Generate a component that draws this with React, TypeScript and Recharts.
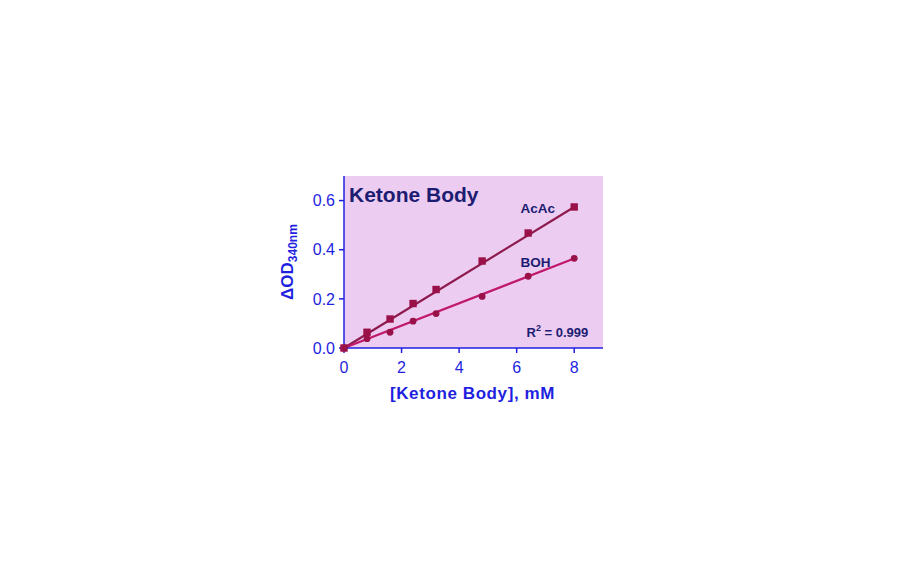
import {
  ComposedChart,
  Line,
  Scatter,
  XAxis,
  YAxis,
  CartesianGrid,
  Customized,
} from "recharts";

// concentrations (mM)
const conc = [0, 0.8, 1.6, 2.4, 3.2, 4.8, 6.4, 8];
const acacOD = [0, 0.064, 0.118, 0.181, 0.238, 0.354, 0.468, 0.574];
const bohOD = [0, 0.038, 0.064, 0.109, 0.14, 0.21, 0.292, 0.365];

// fitted lines, endpoints
const fitX = [0, 8];
const acacFit = [0, 0.574];
const bohFit = [0, 0.364];

const xTicks = [0, 2, 4, 6, 8];
const yTicks = [0, 0.2, 0.4, 0.6];

const acacPts = conc.map((x, i) => ({ x, y: acacOD[i] }));
const bohPts = conc.map((x, i) => ({ x, y: bohOD[i] }));
const acacLine = fitX.map((x, i) => ({ x, y: acacFit[i] }));
const bohLine = fitX.map((x, i) => ({ x, y: bohFit[i] }));

const AXIS = "#1f1fe0";
const NAVY = "#1c1c72";
const MARK = "#9a1048";
const FONT = "Arial, 'Liberation Sans', sans-serif";

const Square = (p: any) => (
  <rect x={p.cx - 3.7} y={p.cy - 3.7} width={7.4} height={7.4} fill={MARK} />
);
const Dot = (p: any) => <circle cx={p.cx} cy={p.cy} r={3.4} fill={MARK} />;

function Annotations() {
  return (
    <g fontFamily={FONT} fontWeight="bold">
      <text x={341} y={194} fontSize={21} fill={NAVY}>
        Ketone Body
      </text>
      <text x={512.5} y={205} fontSize={13.5} fill={NAVY}>
        AcAc
      </text>
      <text x={512.5} y={258.5} fontSize={13.5} fill={NAVY}>
        BOH
      </text>
      <text x={518.5} y={328.5} fontSize={13} fill={NAVY}>
        R<tspan dy={-6} fontSize={9}>2</tspan>
        <tspan dy={6}> = 0.999</tspan>
      </text>
      <text
        x={285}
        y={254}
        fontSize={17}
        fill={AXIS}
        textAnchor="middle"
        transform="rotate(-90 285 254)"
      >
        ΔOD<tspan dy={4} fontSize={12}>340nm</tspan>
      </text>
      <text
        x={464.5}
        y={391}
        fontSize={17}
        fill={AXIS}
        textAnchor="middle"
        letterSpacing={0.6}
      >
        [Ketone Body], mM
      </text>
    </g>
  );
}

export default function App() {
  return (
    <div style={{ width: 900, height: 550, background: "#fff" }}>
      <ComposedChart
        width={900}
        height={550}
        margin={{ top: 168, right: 305, left: 300, bottom: 180 }}
      >
        <CartesianGrid horizontal={false} vertical={false} fill="#ecccf0" />
        <XAxis
          type="number"
          dataKey="x"
          domain={[0, 9]}
          ticks={xTicks}
          height={30}
          stroke={AXIS}
          strokeWidth={1.5}
          tickSize={5}
          tickMargin={9}
          tick={{ fill: AXIS, fontSize: 16, fontFamily: FONT }}
        />
        <YAxis
          type="number"
          dataKey="y"
          domain={[0, 0.7]}
          ticks={yTicks}
          width={36}
          stroke={AXIS}
          strokeWidth={1.5}
          tickSize={5}
          tickMargin={4}
          tickFormatter={(v) => v.toFixed(1)}
          tick={{ fill: AXIS, fontSize: 16, fontFamily: FONT }}
        />
        <Line
          data={acacLine}
          dataKey="y"
          stroke="#8e1a4e"
          strokeWidth={2.2}
          dot={false}
          isAnimationActive={false}
        />
        <Line
          data={bohLine}
          dataKey="y"
          stroke="#c0186a"
          strokeWidth={2.2}
          dot={false}
          isAnimationActive={false}
        />
        <Scatter data={acacPts} dataKey="y" shape={Square} isAnimationActive={false} />
        <Scatter data={bohPts} dataKey="y" shape={Dot} isAnimationActive={false} />
        <Customized component={Annotations} />
      </ComposedChart>
    </div>
  );
}
